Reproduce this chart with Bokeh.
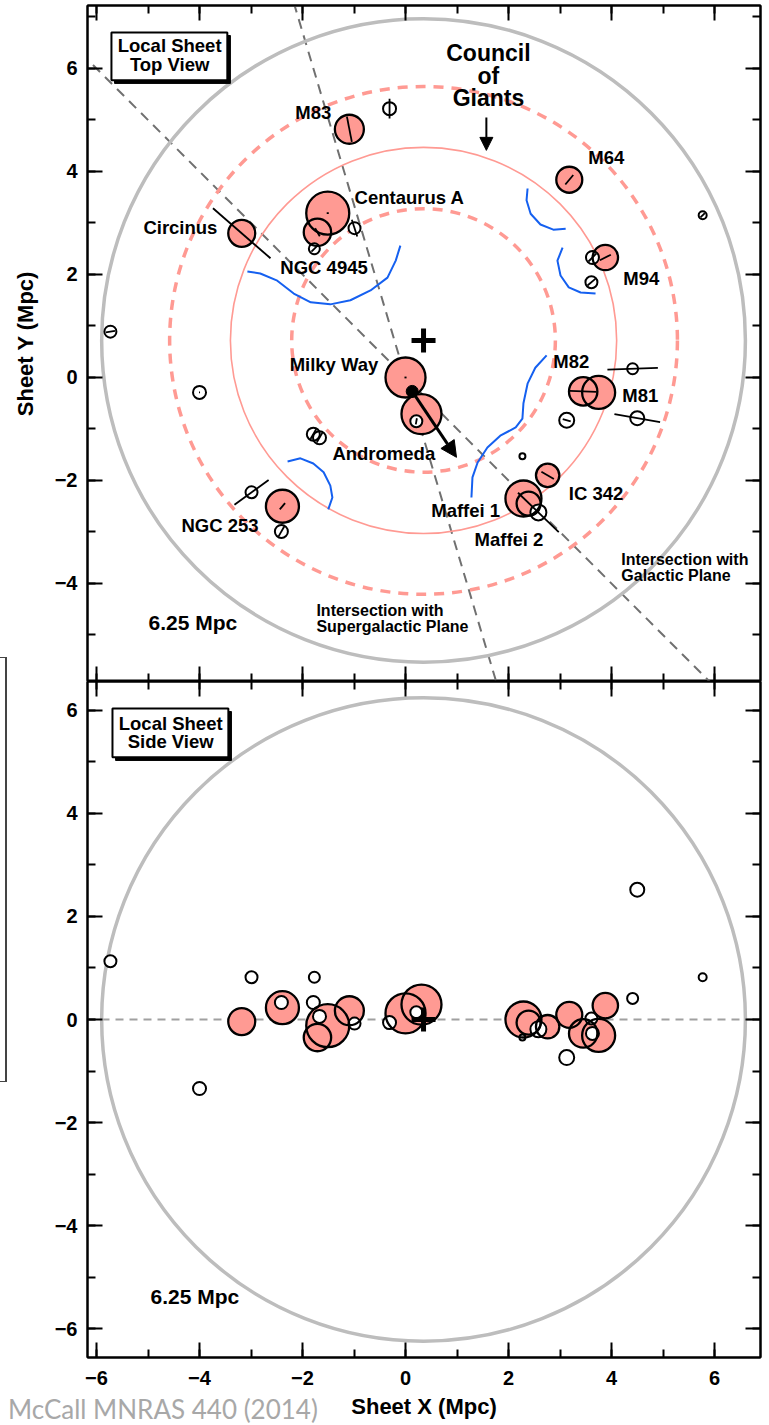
import math
from bokeh.plotting import figure
from bokeh.models import (LinearAxis, SingleIntervalTicker, Range1d, Arrow,
                          NormalHead, Span, CustomJSTickFormatter, Div)
from bokeh.layouts import column
from bokeh.embed import file_html
from bokeh.resources import INLINE
from bokeh.core.properties import value

# ------------------------------------------------------------------ data
# Giant galaxies (Sheet X, Sheet Y, Sheet Z in Mpc)
giant_names = ["Milky Way", "Andromeda", "Centaurus A", "NGC 4945", "Circinus",
               "M83", "M64", "M94", "M82", "M81", "IC 342", "Maffei 1",
               "Maffei 2", "NGC 253"]
giant_x = [0.00, 0.31, -1.51, -1.71, -3.18, -1.09, 3.18, 3.88, 3.45, 3.75,
           2.76, 2.29, 2.39, -2.39]
giant_y = [0.00, -0.71, 3.19, 2.82, 2.80, 4.82, 3.84, 2.33, -0.27, -0.29,
           -1.90, -2.35, -2.45, -2.50]
giant_z = [0.12, 0.29, -0.12, -0.35, -0.04, 0.17, 0.09, 0.27, -0.27, -0.31,
           -0.14, 0.00, -0.06, 0.23]
giant_symbol = [20.0, 20.0, 21.5, 13.7, 13.5, 14.5, 13.0, 12.7, 14.2, 16.5,
                11.7, 18.0, 12.0, 16.5]
giant_pa = [0, 0, 0, -60, -41, -79, 50, 27, -2, 0, -30, 0, 0, 50]
giant_axis = [0.02, 0.0, 0.02, 0.09, 0.74, 0.25, 0.12, 0.12, 0.26, 0.0,
              0.14, 0.0, 0.0, 0.08]

# Dwarf / smaller galaxies
dwarf_x = [-0.31, -5.73, -0.99, -1.77, -1.79, -1.67, -4.00, -2.99, -2.41,
           0.21, 5.77, 3.63, 3.61, 4.41, 4.50, 3.13, 2.27, 2.58]
dwarf_y = [5.22, 0.89, 2.90, 2.50, -1.10, -1.17, -0.29, -2.23, -2.99,
           -0.85, 3.15, 2.33, 1.85, 0.17, -0.79, -0.83, -1.53, -2.62]
dwarf_z = [-0.06, 1.13, -0.08, 0.82, 0.33, 0.06, -1.34, 0.82, 0.33,
           0.14, 0.82, -0.27, 0.02, 0.41, 2.52, -0.74, -0.35, -0.19]
dwarf_symbol = [6.5, 6.0, 6.0, 5.5, 6.5, 6.5, 6.5, 6.0, 6.5,
                6.0, 4.0, 6.5, 6.0, 5.5, 7.0, 7.5, 3.0, 8.0]
dwarf_pa = [90, 10, -72, 45, 60, 60, 0, 36, 60,
            80, 45, 45, 40, 2, -10, -15, 0, -44]
dwarf_axis = [0.19, 0.09, 0.17, 0.08, 0.11, 0.11, 0.01, 0.41, 0.11,
              0.06, 0.06, 0.11, 0.10, 0.49, 0.45, 0.08, 0.0, 0.55]

# Council of Giants ring (centre and radii, Mpc)
cog_center = (0.35, 0.72)
cog_ring_radius = 3.75
cog_band_radii = [2.56, 4.93]
sheet_radius = 6.25

# Intersections of the sheet with the planes (angle in degrees, through origin)
plane_angles = [106.6, 135.0]

# Motion arrow in top view
motion_start = (0.13, -0.27)
motion_end = (0.99, -1.55)

# Blue boundaries (top view)
blue_curves = [
    ([-3.07, -2.82, -2.49, -2.17, -1.84, -1.46, -1.07, -0.68, -0.35, -0.19, -0.10],
     [2.06, 2.02, 1.88, 1.63, 1.46, 1.42, 1.50, 1.69, 1.94, 2.27, 2.56]),
    ([2.37, 2.35, 2.43, 2.62, 2.87, 3.11],
     [3.67, 3.44, 3.18, 2.97, 2.87, 2.89]),
    ([3.05, 2.95, 3.01, 3.17, 3.40, 3.69],
     [2.52, 2.27, 1.98, 1.75, 1.65, 1.63]),
    ([2.74, 2.52, 2.37, 2.29, 2.27, 2.14, 1.84, 1.59, 1.40, 1.30, 1.28],
     [0.43, 0.19, -0.12, -0.50, -0.80, -0.97, -1.13, -1.36, -1.65, -1.94, -2.33]),
    ([-2.29, -2.04, -1.79, -1.59, -1.46, -1.42, -1.50],
     [-1.63, -1.57, -1.67, -1.84, -2.10, -2.33, -2.56]),
]

# Name labels in top view
label_text = ["M83", "Centaurus A", "Circinus", "NGC 4945", "M64", "M94",
              "Milky Way", "Andromeda", "NGC 253", "M82", "M81", "IC 342",
              "Maffei 1", "Maffei 2"]
label_x = [-2.14, -0.99, -5.09, -2.43, 3.55, 4.23, -2.25, -1.42, -4.35,
           2.87, 4.21, 3.17, 0.50, 1.34]
label_y = [5.15, 3.50, 2.91, 2.14, 4.27, 1.92, 0.25, -1.48, -2.87,
           0.31, -0.35, -2.25, -2.58, -3.15]

credit_text = "McCall MNRAS 440 (2014)"

X_RANGE = (-6.175, 6.893)
TOP_Y_RANGE = (-5.903, 7.223)
SIDE_Y_RANGE = (-6.563, 6.563)

FONT = "Liberation Sans"
PINK = "#FF9A93"
RING = "#FF9A93"


def style_axis(ax, show_labels):
    ax.ticker = SingleIntervalTicker(interval=2, num_minor_ticks=2)
    ax.major_tick_in = 15
    ax.major_tick_out = 0
    ax.minor_tick_in = 8
    ax.minor_tick_out = 0
    ax.major_tick_line_width = 2
    ax.minor_tick_line_width = 2
    ax.major_tick_line_color = "black"
    ax.minor_tick_line_color = "black"
    ax.axis_line_width = 2
    ax.axis_line_color = "black"
    if show_labels:
        ax.major_label_text_font = FONT
        ax.major_label_text_font_size = "20px"
        ax.major_label_text_font_style = "bold"
        ax.major_label_text_color = "black"
        ax.major_label_standoff = 10
    else:
        ax.formatter = CustomJSTickFormatter(code="return '';")
        ax.major_label_standoff = 0


def make_fig(height, yr, min_top, min_bottom):
    p = figure(width=769, height=height,
               x_range=Range1d(*X_RANGE), y_range=Range1d(*yr),
               output_backend="svg", toolbar_location=None,
               min_border_left=87, min_border_right=9,
               min_border_top=min_top, min_border_bottom=min_bottom)
    p.grid.visible = False
    p.outline_line_color = "black"
    p.outline_line_width = 2
    p.background_fill_color = "white"
    p.border_fill_color = "white"
    return p


def add_text(p, xs, ys, texts, size, align="left"):
    p.text(x=xs, y=ys, text=texts, text_font=value(FONT),
           text_font_size=size, text_font_style="bold", text_color="black",
           text_align=align, text_baseline="middle")


def add_box(p, left, right, bottom, top, lines, cx, ys):
    off = 0.06
    p.quad(left=[left + off], right=[right + off], bottom=[bottom - off],
           top=[top - off], fill_color="black", line_color="black")
    p.quad(left=[left], right=[right], bottom=[bottom], top=[top],
           fill_color="white", line_color="black", line_width=2)
    add_text(p, [cx] * len(lines), ys, lines, "18.5px", align="center")


def galaxies(p, xs_g, ys_g, xs_d, ys_d):
    p.scatter(xs_g, ys_g, size=[2 * r for r in giant_symbol], marker="circle",
              fill_color=PINK, line_color=None)
    p.scatter(xs_d, ys_d, size=[2 * r for r in dwarf_symbol], marker="circle",
              fill_color="white", line_color=None)
    p.scatter(xs_g, ys_g, size=[2 * r for r in giant_symbol], marker="circle",
              fill_color=None, line_color="black", line_width=2.3)
    p.scatter(xs_d, ys_d, size=[2 * r for r in dwarf_symbol], marker="circle",
              fill_color=None, line_color="black", line_width=2)


# ------------------------------------------------------------------ top view
top = make_fig(681, TOP_Y_RANGE, 5, 0)
style_axis(top.xaxis[0], False)
style_axis(top.yaxis[0], True)
top.yaxis[0].axis_label = "Sheet Y (Mpc)"
top.yaxis[0].axis_label_text_font = FONT
top.yaxis[0].axis_label_text_font_size = "22px"
top.yaxis[0].axis_label_text_font_style = "bold"
top.yaxis[0].axis_label_text_color = "black"
top.yaxis[0].axis_label_standoff = 14
for loc in ("right", "above"):
    ax = LinearAxis()
    style_axis(ax, False)
    top.add_layout(ax, loc)

# plane intersections
L = 20
top.segment(x0=[-L * math.cos(math.radians(a)) for a in plane_angles],
            y0=[-L * math.sin(math.radians(a)) for a in plane_angles],
            x1=[L * math.cos(math.radians(a)) for a in plane_angles],
            y1=[L * math.sin(math.radians(a)) for a in plane_angles],
            line_color="#707070", line_width=2, line_dash="10 7")

# rings
top.circle(x=[cog_center[0]], y=[cog_center[1]], radius=sheet_radius,
           fill_color=None, line_color="#BDBDBD", line_width=3.5)
top.circle(x=[cog_center[0]] * 2, y=[cog_center[1]] * 2, radius=cog_band_radii,
           fill_color=None, line_color=RING, line_width=3.5, line_dash="10 8")
top.circle(x=[cog_center[0]], y=[cog_center[1]], radius=cog_ring_radius,
           fill_color=None, line_color=RING, line_width=1.6)

for bx, by in blue_curves:
    top.line(bx, by, line_color="#1560F0", line_width=2)

galaxies(top, giant_x, giant_y, dwarf_x, dwarf_y)

# orientation axes
ax_x0, ax_y0, ax_x1, ax_y1 = [], [], [], []
for xs, ys, pas, lens in ((giant_x, giant_y, giant_pa, giant_axis),
                          (dwarf_x, dwarf_y, dwarf_pa, dwarf_axis)):
    for x, y, a, h in zip(xs, ys, pas, lens):
        if h <= 0:
            continue
        c, s = math.cos(math.radians(a)), math.sin(math.radians(a))
        ax_x0.append(x - h * c)
        ax_y0.append(y - h * s)
        ax_x1.append(x + h * c)
        ax_y1.append(y + h * s)
top.segment(x0=ax_x0, y0=ax_y0, x1=ax_x1, y1=ax_y1, line_color="black",
            line_width=1.8)

# motion of the Milky Way
top.scatter([motion_start[0]], [motion_start[1]], size=12, marker="circle",
            color="black")
top.add_layout(Arrow(end=NormalHead(size=16, fill_color="black",
                                    line_color="black"),
                     x_start=motion_start[0], y_start=motion_start[1],
                     x_end=motion_end[0], y_end=motion_end[1],
                     line_width=3, line_color="black"))

# Council of Giants pointer
top.add_layout(Arrow(end=NormalHead(size=13, fill_color="black",
                                    line_color="black"),
                     x_start=1.57, y_start=5.05, x_end=1.57, y_end=4.41,
                     line_width=2, line_color="black"))

top.scatter([cog_center[0]], [cog_center[1]], marker="cross", size=24,
            line_width=5, color="black")

add_text(top, label_x, label_y, label_text, "18.5px")
add_text(top, [1.61] * 3, [6.31, 5.86, 5.42], ["Council", "of", "Giants"],
         "23px", align="center")
add_text(top, [-4.99], [-4.76], ["6.25 Mpc"], "21px")
add_text(top, [-1.73, -1.73], [-4.52, -4.83],
         ["Intersection with", "Supergalactic Plane"], "16px")
add_text(top, [4.19, 4.19], [-3.53, -3.84],
         ["Intersection with", "Galactic Plane"], "16px")
add_box(top, -5.71, -3.46, 5.77, 6.70, ["Local Sheet", "Top View"], -4.58,
        [6.45, 6.08])

# ------------------------------------------------------------------ side view
side = make_fig(743, SIDE_Y_RANGE, 0, 67)
style_axis(side.xaxis[0], True)
side.xaxis[0].major_label_standoff = 13
side.xaxis[0].axis_label = "Sheet X (Mpc)"
side.xaxis[0].axis_label_text_font = FONT
side.xaxis[0].axis_label_text_font_size = "22px"
side.xaxis[0].axis_label_text_font_style = "bold"
side.xaxis[0].axis_label_text_color = "black"
side.xaxis[0].axis_label_standoff = 6
style_axis(side.yaxis[0], True)
for loc in ("right", "above"):
    ax = LinearAxis()
    style_axis(ax, False)
    side.add_layout(ax, loc)

side.add_layout(Span(location=0, dimension="width", line_color="#A0A0A0",
                     line_width=2, line_dash="8 6", level="underlay"))
side.circle(x=[cog_center[0]], y=[0], radius=sheet_radius, fill_color=None,
            line_color="#BDBDBD", line_width=3.5)
galaxies(side, giant_x, giant_z, dwarf_x, dwarf_z)
side.scatter([cog_center[0]], [0], marker="cross", size=24, line_width=5,
             color="black")
add_text(side, [-4.95], [-5.38], ["6.25 Mpc"], "21px")
add_box(side, -5.69, -3.44, 5.09, 6.04, ["Local Sheet", "Side View"], -4.56,
        [5.75, 5.40])

# credit line (and the edge of a neighbouring panel seen at the left border)
credit = Div(
    text=('<div style="position:relative;width:769px;height:1px;">'
          '<div style="position:absolute;left:3px;top:-44px;'
          'font-family:Lato,sans-serif;font-size:26px;line-height:1;'
          'color:#A8A8A8;white-space:nowrap;">' + credit_text + '</div>'
          '<div style="position:absolute;left:-10px;top:-783px;width:12px;'
          'height:425px;border-top:1px solid #444;border-bottom:1px solid #444;'
          'border-right:2px solid #444;"></div>'
          '</div>'),
    width=769, height=1)

layout = column(top, side, credit, spacing=0)
open("out.html", "w").write(file_html(layout, INLINE))
